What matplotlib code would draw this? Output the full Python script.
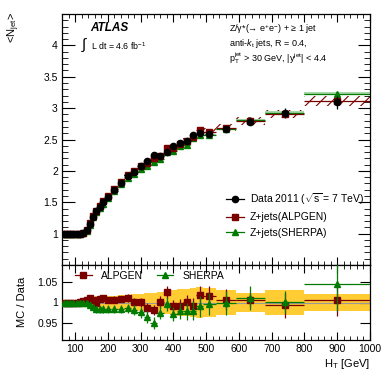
import numpy as np
import matplotlib
matplotlib.use("Agg")
import matplotlib.pyplot as plt
from matplotlib.ticker import MultipleLocator, FixedLocator, FuncFormatter
from matplotlib.lines import Line2D

plt.rcParams['font.family'] = ['Liberation Sans', 'DejaVu Sans']
plt.rcParams['mathtext.fontset'] = 'custom'
plt.rcParams['mathtext.rm'] = 'Liberation Sans'
plt.rcParams['mathtext.it'] = 'Liberation Sans:italic'
plt.rcParams['mathtext.bf'] = 'Liberation Sans:bold'
plt.rcParams['hatch.linewidth'] = 0.8

# H_T bin edges [GeV]
edges = np.array([60, 70, 80, 90, 100, 110, 120, 130, 140, 150, 160, 170, 180, 190,
                  210, 230, 250, 270, 290, 310, 330, 350, 370, 390, 410, 430, 450, 470, 490,
                  530, 590, 680, 800, 1000])

# <N_jet> measured
n_data = [1.00, 1.00, 1.00, 1.00, 1.00, 1.00, 1.01, 1.05, 1.15, 1.27, 1.36, 1.43, 1.50,
          1.59, 1.70, 1.81, 1.92, 1.99, 2.08, 2.16, 2.25, 2.24, 2.30, 2.39, 2.45, 2.47, 2.57, 2.60,
          2.58, 2.67, 2.78, 2.92, 3.09]
n_data_err = [0.003, 0.003, 0.003, 0.003, 0.003, 0.003, 0.004, 0.005, 0.006, 0.007, 0.008, 0.008, 0.009,
              0.010, 0.011, 0.012, 0.013, 0.014, 0.015, 0.016, 0.017, 0.018, 0.019, 0.020, 0.021, 0.022, 0.024, 0.026,
              0.030, 0.040, 0.055, 0.075, 0.11]

# MC predictions, main panel
n_alpgen = [1.00, 1.00, 1.00, 1.00, 1.00, 1.00, 1.013, 1.055, 1.163, 1.276, 1.359, 1.443, 1.517,
            1.601, 1.712, 1.826, 1.941, 1.992, 2.082, 2.130, 2.210, 2.242, 2.360, 2.369, 2.428, 2.472, 2.547, 2.647,
            2.621, 2.689, 2.797, 2.900, 3.112]
alpgen_sys = [0.005, 0.005, 0.005, 0.005, 0.005, 0.005, 0.006, 0.010, 0.012, 0.014, 0.016, 0.018, 0.020,
              0.022, 0.025, 0.028, 0.030, 0.032, 0.034, 0.036, 0.038, 0.040, 0.042, 0.044, 0.046, 0.048, 0.050, 0.052,
              0.055, 0.055, 0.060, 0.065, 0.080]
n_sherpa = [1.00, 1.00, 1.00, 1.00, 1.00, 1.00, 1.01, 1.049, 1.144, 1.257, 1.337, 1.406, 1.476,
            1.565, 1.673, 1.783, 1.893, 1.954, 2.030, 2.082, 2.138, 2.184, 2.293, 2.323, 2.401, 2.416, 2.519, 2.577,
            2.572, 2.667, 2.811, 2.926, 3.232]
sherpa_sys = [0.004, 0.004, 0.004, 0.004, 0.004, 0.004, 0.004, 0.006, 0.007, 0.008, 0.008, 0.009, 0.009,
              0.010, 0.010, 0.011, 0.011, 0.012, 0.012, 0.013, 0.013, 0.014, 0.014, 0.015, 0.015, 0.016, 0.016, 0.017,
              0.018, 0.019, 0.020, 0.021, 0.022]

# ratio panel
r_alpgen = [1.000, 1.000, 1.000, 1.000, 1.000, 1.001, 1.003, 1.005, 1.011, 1.005, 0.999, 1.009, 1.011,
            1.007, 1.007, 1.009, 1.011, 1.001, 1.001, 0.986, 0.982, 1.001, 1.026, 0.991, 0.991, 1.001, 0.991, 1.018,
            1.016, 1.007, 1.006, 0.993, 1.007]
r_alpgen_err = [0.001, 0.001, 0.001, 0.001, 0.001, 0.001, 0.002, 0.003, 0.004, 0.005, 0.006, 0.006, 0.007,
                0.007, 0.008, 0.008, 0.009, 0.010, 0.011, 0.012, 0.013, 0.014, 0.015, 0.016, 0.017, 0.018, 0.019, 0.022,
                0.024, 0.025, 0.018, 0.031, 0.040]
r_sherpa = [1.000, 1.000, 1.000, 1.000, 1.000, 1.000, 1.000, 0.999, 0.995, 0.990, 0.983, 0.983, 0.984,
            0.984, 0.984, 0.985, 0.986, 0.982, 0.976, 0.964, 0.950, 0.975, 0.997, 0.972, 0.980, 0.978, 0.980, 0.991,
            0.997, 0.999, 1.011, 1.002, 1.046]
r_sherpa_err = [0.001, 0.001, 0.001, 0.001, 0.001, 0.001, 0.002, 0.004, 0.006, 0.007, 0.008, 0.008, 0.009,
                0.009, 0.010, 0.010, 0.011, 0.012, 0.013, 0.014, 0.015, 0.016, 0.017, 0.018, 0.020, 0.022, 0.024, 0.026,
                0.027, 0.030, 0.030, 0.027, 0.066]
data_band = [0.003, 0.003, 0.003, 0.003, 0.003, 0.003, 0.004, 0.008, 0.012, 0.014, 0.015, 0.016, 0.016,
             0.017, 0.017, 0.018, 0.019, 0.021, 0.022, 0.023, 0.024, 0.026, 0.028, 0.030, 0.032, 0.034, 0.036, 0.038,
             0.035, 0.030, 0.024, 0.031, 0.022]

main_yticks = [1, 1.5, 2, 2.5, 3, 3.5, 4]
ratio_yticks = [0.95, 1, 1.05]

ctr = 0.5 * (edges[1:] + edges[:-1])
wid = edges[1:] - edges[:-1]
red = '#7a0000'
green = '#007a00'

W, H = 390, 383
fig = plt.figure(figsize=(W / 100, H / 100), dpi=100)
ax = fig.add_axes([62 / W, 1 - 265 / H, 308 / W, 251 / H])
rx = fig.add_axes([62 / W, 1 - 340 / H, 308 / W, 75 / H], sharex=ax)

# main panel
ax.bar(ctr, 2 * np.array(alpgen_sys), bottom=np.array(n_alpgen) - np.array(alpgen_sys), width=wid,
       fill=False, hatch='///', edgecolor=red, linewidth=0, zorder=1)
ax.bar(ctr, 2 * np.array(sherpa_sys), bottom=np.array(n_sherpa) - np.array(sherpa_sys), width=wid,
       color='#a8d8a8', linewidth=0, zorder=1)
ax.errorbar(ctr, n_sherpa, xerr=wid / 2, fmt='^', color=green, ms=4, lw=0.9, zorder=3)
ax.errorbar(ctr, n_alpgen, xerr=wid / 2, fmt='s', color=red, ms=4, lw=0.9, zorder=4)
ax.errorbar(ctr, n_data, yerr=n_data_err, fmt='o', color='black', ms=4.5, lw=0.9, zorder=5)

ax.set_xlim(60, 1000)
ax.set_ylim(0.5, 4.5)
ax.yaxis.set_major_locator(FixedLocator(main_yticks))
ax.yaxis.set_minor_locator(MultipleLocator(0.1))
ax.xaxis.set_major_locator(MultipleLocator(100))
ax.xaxis.set_minor_locator(MultipleLocator(20))
ax.yaxis.set_major_formatter(FuncFormatter(lambda v, p: '%g' % v))
ax.tick_params(axis='x', labelbottom=False)

# ratio panel
rx.bar(ctr, 2 * np.array(data_band), bottom=1 - np.array(data_band), width=wid,
       color='#ffcc33', linewidth=0, zorder=1)
rx.axhline(1, color='#999999', lw=0.8, zorder=2)
rx.errorbar(ctr, r_alpgen, xerr=wid / 2, yerr=r_alpgen_err, fmt='s', color=red, ms=4, lw=0.9, zorder=3)
rx.errorbar(ctr, r_sherpa, xerr=wid / 2, yerr=r_sherpa_err, fmt='^', color=green, ms=4, lw=0.9, zorder=4)
rx.set_ylim(0.908, 1.092)
rx.yaxis.set_major_locator(FixedLocator(ratio_yticks))
rx.yaxis.set_major_formatter(FuncFormatter(lambda v, p: '%g' % round(v, 2)))

for a in (ax, rx):
    a.tick_params(which='both', direction='in', top=True, right=True, labelsize=7.5, pad=3)
    a.tick_params(which='major', length=6, width=0.8)
    a.tick_params(which='minor', length=3, width=0.6)
    for s in a.spines.values():
        s.set_linewidth(0.9)
ax.tick_params(axis='y', which='major', length=9)
ax.tick_params(axis='y', which='minor', length=4.5)
rx.tick_params(axis='y', which='major', length=7)

# legends
h_data = Line2D([], [], color='black', marker='o', ms=4.5, lw=0.9)
h_alp = Line2D([], [], color=red, marker='s', ms=4, lw=0.9)
h_she = Line2D([], [], color=green, marker='^', ms=4, lw=0.9)
ax.legend([h_data, h_alp, h_she],
          ['Data 2011 ($\\sqrt{\\mathrm{s}}$ = 7 TeV)', 'Z+jets(ALPGEN)', 'Z+jets(SHERPA)'],
          loc='upper left', bbox_to_anchor=(226 / W, 1 - 191 / H), bbox_transform=fig.transFigure,
          frameon=False, fontsize=7.5, handlelength=1.7, handletextpad=0.6, labelspacing=0.55,
          borderaxespad=0, borderpad=0)
rx.legend([h_alp, h_she], ['ALPGEN', 'SHERPA'], loc='upper left', ncol=2,
          bbox_to_anchor=(75 / W, 1 - 271 / H), bbox_transform=fig.transFigure,
          frameon=False, fontsize=7.5, handlelength=1.6, handletextpad=0.9, columnspacing=1.3,
          borderaxespad=0, borderpad=0)

# labels and annotations
fig.text(90 / W, 1 - 28 / H, 'ATLAS', fontsize=8.5, fontweight='bold', fontstyle='italic', va='center')
fig.text(81 / W, 1 - 45 / H, '$\\int$', fontsize=11, va='center')
fig.text(91 / W, 1 - 46 / H, 'L dt = 4.6 fb$^{-1}$', fontsize=6.3, va='center')
fig.text(229 / W, 1 - 29 / H, 'Z/γ*(→ e$^{+}$e$^{-}$) + ≥ 1 jet', fontsize=6.5, va='center')
fig.text(229 / W, 1 - 43 / H, 'anti-$k_{\\mathrm{t}}$ jets, R = 0.4,', fontsize=6.5, va='center')
fig.text(229 / W, 1 - 58 / H, 'p$_{\\mathrm{T}}^{\\mathrm{jet}}$ > 30 GeV, |y$^{\\mathrm{jet}}$| < 4.4',
         fontsize=6.5, va='center')

fig.text(14 / W, 1 - 12 / H, '<N$_{\\mathrm{jet}}$>', fontsize=8, rotation=90, ha='center', va='top')
fig.text(22 / W, 1 - 302 / H, 'MC / Data', fontsize=8, rotation=90, ha='center', va='center')
fig.text(370 / W, 1 - 364 / H, 'H$_{\\mathrm{T}}$ [GeV]', fontsize=8, ha='right', va='center')

fig.savefig('out.png', dpi=100, facecolor='white')
